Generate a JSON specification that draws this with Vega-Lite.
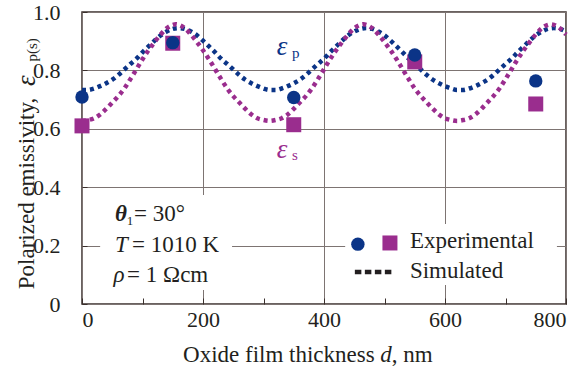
{
  "$schema": "https://vega.github.io/schema/vega-lite/v6.json",
  "width": 484,
  "height": 292,
  "autosize": {"type": "none"},
  "padding": {"left": 82, "top": 12, "right": 10, "bottom": 68},
  "background": "white",
  "config": {
    "view": {"stroke": "#3a2f2c", "strokeWidth": 1.5},
    "font": "'Liberation Serif', 'Times New Roman', serif",
    "text": {"font": "'Liberation Serif', 'Times New Roman', serif", "color": "#231f20"}
  },
  "datasets": {
    "one": [{}],
    "sim": [
      {"d":0,"v":0.733,"pol":"p"},{"d":10,"v":0.733,"pol":"p"},{"d":20,"v":0.738,"pol":"p"},{"d":30,"v":0.746,"pol":"p"},{"d":40,"v":0.756,"pol":"p"},{"d":50,"v":0.768,"pol":"p"},{"d":60,"v":0.784,"pol":"p"},{"d":70,"v":0.803,"pol":"p"},{"d":80,"v":0.822,"pol":"p"},{"d":90,"v":0.840,"pol":"p"},{"d":100,"v":0.862,"pol":"p"},{"d":110,"v":0.882,"pol":"p"},{"d":120,"v":0.902,"pol":"p"},{"d":130,"v":0.920,"pol":"p"},{"d":140,"v":0.933,"pol":"p"},{"d":150,"v":0.942,"pol":"p"},{"d":160,"v":0.945,"pol":"p"},{"d":170,"v":0.942,"pol":"p"},{"d":180,"v":0.933,"pol":"p"},{"d":190,"v":0.920,"pol":"p"},{"d":200,"v":0.902,"pol":"p"},{"d":210,"v":0.882,"pol":"p"},{"d":220,"v":0.862,"pol":"p"},{"d":230,"v":0.840,"pol":"p"},{"d":240,"v":0.822,"pol":"p"},{"d":250,"v":0.803,"pol":"p"},{"d":260,"v":0.784,"pol":"p"},{"d":270,"v":0.768,"pol":"p"},{"d":280,"v":0.756,"pol":"p"},{"d":290,"v":0.746,"pol":"p"},{"d":300,"v":0.738,"pol":"p"},{"d":310,"v":0.733,"pol":"p"},{"d":320,"v":0.733,"pol":"p"},{"d":330,"v":0.738,"pol":"p"},{"d":340,"v":0.746,"pol":"p"},{"d":350,"v":0.756,"pol":"p"},{"d":360,"v":0.768,"pol":"p"},{"d":370,"v":0.784,"pol":"p"},{"d":380,"v":0.803,"pol":"p"},{"d":390,"v":0.822,"pol":"p"},{"d":400,"v":0.840,"pol":"p"},{"d":410,"v":0.862,"pol":"p"},{"d":420,"v":0.882,"pol":"p"},{"d":430,"v":0.902,"pol":"p"},{"d":440,"v":0.920,"pol":"p"},{"d":450,"v":0.933,"pol":"p"},{"d":460,"v":0.942,"pol":"p"},{"d":470,"v":0.945,"pol":"p"},{"d":480,"v":0.942,"pol":"p"},{"d":490,"v":0.933,"pol":"p"},{"d":500,"v":0.920,"pol":"p"},{"d":510,"v":0.902,"pol":"p"},{"d":520,"v":0.882,"pol":"p"},{"d":530,"v":0.862,"pol":"p"},{"d":540,"v":0.840,"pol":"p"},{"d":550,"v":0.822,"pol":"p"},{"d":560,"v":0.803,"pol":"p"},{"d":570,"v":0.784,"pol":"p"},{"d":580,"v":0.768,"pol":"p"},{"d":590,"v":0.756,"pol":"p"},{"d":600,"v":0.746,"pol":"p"},{"d":610,"v":0.738,"pol":"p"},{"d":620,"v":0.733,"pol":"p"},{"d":630,"v":0.733,"pol":"p"},{"d":640,"v":0.738,"pol":"p"},{"d":650,"v":0.746,"pol":"p"},{"d":660,"v":0.756,"pol":"p"},{"d":670,"v":0.768,"pol":"p"},{"d":680,"v":0.784,"pol":"p"},{"d":690,"v":0.803,"pol":"p"},{"d":700,"v":0.822,"pol":"p"},{"d":710,"v":0.840,"pol":"p"},{"d":720,"v":0.862,"pol":"p"},{"d":730,"v":0.882,"pol":"p"},{"d":740,"v":0.902,"pol":"p"},{"d":750,"v":0.920,"pol":"p"},{"d":760,"v":0.933,"pol":"p"},{"d":770,"v":0.942,"pol":"p"},{"d":780,"v":0.945,"pol":"p"},{"d":790,"v":0.942,"pol":"p"},{"d":800,"v":0.933,"pol":"p"},
      {"d":0,"v":0.627,"pol":"s"},{"d":10,"v":0.630,"pol":"s"},{"d":20,"v":0.636,"pol":"s"},{"d":30,"v":0.649,"pol":"s"},{"d":40,"v":0.668,"pol":"s"},{"d":50,"v":0.690,"pol":"s"},{"d":60,"v":0.712,"pol":"s"},{"d":70,"v":0.738,"pol":"s"},{"d":80,"v":0.770,"pol":"s"},{"d":90,"v":0.804,"pol":"s"},{"d":100,"v":0.838,"pol":"s"},{"d":110,"v":0.869,"pol":"s"},{"d":120,"v":0.897,"pol":"s"},{"d":130,"v":0.923,"pol":"s"},{"d":140,"v":0.944,"pol":"s"},{"d":150,"v":0.956,"pol":"s"},{"d":155,"v":0.958,"pol":"s"},{"d":160,"v":0.956,"pol":"s"},{"d":170,"v":0.944,"pol":"s"},{"d":180,"v":0.923,"pol":"s"},{"d":190,"v":0.897,"pol":"s"},{"d":200,"v":0.869,"pol":"s"},{"d":210,"v":0.838,"pol":"s"},{"d":220,"v":0.804,"pol":"s"},{"d":230,"v":0.770,"pol":"s"},{"d":240,"v":0.738,"pol":"s"},{"d":250,"v":0.712,"pol":"s"},{"d":260,"v":0.690,"pol":"s"},{"d":270,"v":0.668,"pol":"s"},{"d":280,"v":0.649,"pol":"s"},{"d":290,"v":0.636,"pol":"s"},{"d":300,"v":0.630,"pol":"s"},{"d":310,"v":0.627,"pol":"s"},{"d":320,"v":0.630,"pol":"s"},{"d":330,"v":0.636,"pol":"s"},{"d":340,"v":0.649,"pol":"s"},{"d":350,"v":0.668,"pol":"s"},{"d":360,"v":0.690,"pol":"s"},{"d":370,"v":0.712,"pol":"s"},{"d":380,"v":0.738,"pol":"s"},{"d":390,"v":0.770,"pol":"s"},{"d":400,"v":0.804,"pol":"s"},{"d":410,"v":0.838,"pol":"s"},{"d":420,"v":0.869,"pol":"s"},{"d":430,"v":0.897,"pol":"s"},{"d":440,"v":0.923,"pol":"s"},{"d":450,"v":0.944,"pol":"s"},{"d":460,"v":0.956,"pol":"s"},{"d":465,"v":0.958,"pol":"s"},{"d":470,"v":0.956,"pol":"s"},{"d":480,"v":0.944,"pol":"s"},{"d":490,"v":0.923,"pol":"s"},{"d":500,"v":0.897,"pol":"s"},{"d":510,"v":0.869,"pol":"s"},{"d":520,"v":0.838,"pol":"s"},{"d":530,"v":0.804,"pol":"s"},{"d":540,"v":0.770,"pol":"s"},{"d":550,"v":0.738,"pol":"s"},{"d":560,"v":0.712,"pol":"s"},{"d":570,"v":0.690,"pol":"s"},{"d":580,"v":0.668,"pol":"s"},{"d":590,"v":0.649,"pol":"s"},{"d":600,"v":0.636,"pol":"s"},{"d":610,"v":0.630,"pol":"s"},{"d":620,"v":0.627,"pol":"s"},{"d":630,"v":0.630,"pol":"s"},{"d":640,"v":0.636,"pol":"s"},{"d":650,"v":0.649,"pol":"s"},{"d":660,"v":0.668,"pol":"s"},{"d":670,"v":0.690,"pol":"s"},{"d":680,"v":0.712,"pol":"s"},{"d":690,"v":0.738,"pol":"s"},{"d":700,"v":0.770,"pol":"s"},{"d":710,"v":0.804,"pol":"s"},{"d":720,"v":0.838,"pol":"s"},{"d":730,"v":0.869,"pol":"s"},{"d":740,"v":0.897,"pol":"s"},{"d":750,"v":0.923,"pol":"s"},{"d":760,"v":0.944,"pol":"s"},{"d":770,"v":0.956,"pol":"s"},{"d":775,"v":0.958,"pol":"s"},{"d":780,"v":0.956,"pol":"s"},{"d":790,"v":0.944,"pol":"s"},{"d":800,"v":0.923,"pol":"s"}
    ],
    "exp": [
      {"d":0,"v":0.61,"pol":"s"},{"d":150,"v":0.893,"pol":"s"},{"d":350,"v":0.614,"pol":"s"},{"d":550,"v":0.829,"pol":"s"},{"d":750,"v":0.685,"pol":"s"},
      {"d":0,"v":0.709,"pol":"p"},{"d":150,"v":0.895,"pol":"p"},{"d":350,"v":0.707,"pol":"p"},{"d":550,"v":0.853,"pol":"p"},{"d":750,"v":0.764,"pol":"p"}
    ]
  },
  "layer": [
    {
      "data": {"name": "sim"},
      "mark": {"type": "line", "strokeWidth": 4.5, "strokeDash": [4, 4], "strokeCap": "butt", "interpolate": "monotone"},
      "encoding": {
        "x": {
          "field": "d", "type": "quantitative",
          "scale": {"domain": [0, 800], "nice": false, "zero": false},
          "axis": {
            "values": [0, 100, 200, 300, 400, 500, 600, 700, 800],
            "labelExpr": "datum.value % 200 == 0 ? datum.label : ''",
            "labelFont": "'Liberation Serif', 'Times New Roman', serif", "labelFontSize": 22, "labelColor": "#231f20",
            "labelFlush": true, "labelOverlap": false, "labelPadding": 11,
            "domain": false,
            "ticks": true, "tickSize": -6, "tickColor": "#3a2f2c", "tickWidth": 1,
            "grid": true, "gridColor": "#7d7472", "gridWidth": 1,
            "gridOpacity": {"condition": {"test": "datum.value % 200 != 0", "value": 0}, "value": 1},
            "title": null
          }
        },
        "y": {
          "field": "v", "type": "quantitative",
          "scale": {"domain": [0, 1], "nice": false},
          "axis": {
            "values": [0, 0.1, 0.2, 0.3, 0.4, 0.5, 0.6, 0.7, 0.8, 0.9, 1.0],
            "labelExpr": "datum.value == 0 ? '0' : (round(datum.value * 10) % 2 == 0 ? format(datum.value, '.1f') : '')",
            "labelFont": "'Liberation Serif', 'Times New Roman', serif", "labelFontSize": 22, "labelColor": "#231f20",
            "labelOverlap": false, "labelPadding": 27,
            "domain": false,
            "ticks": true, "tickSize": -5, "tickColor": "#3a2f2c", "tickWidth": 1,
            "grid": true, "gridColor": "#7d7472", "gridWidth": 1,
            "gridOpacity": {"condition": {"test": "round(datum.value * 10) % 2 == 1", "value": 0}, "value": 1},
            "title": "Polarized emissivity,",
            "titleFont": "'Liberation Serif', 'Times New Roman', serif", "titleFontSize": 23, "titleFontWeight": "normal", "titleColor": "#231f20",
            "titleAngle": 270, "titleBaseline": "alphabetic", "titleAlign": "center", "titleX": -49, "titleY": 181
          }
        },
        "color": {"field": "pol", "type": "nominal", "scale": {"domain": ["p", "s"], "range": ["#0b3487", "#9a2d8e"]}, "legend": null},
        "detail": {"field": "pol"}
      }
    },
    {
      "data": {"name": "exp"},
      "mark": {"type": "point", "filled": true, "opacity": 1, "strokeWidth": 0},
      "encoding": {
        "x": {"field": "d", "type": "quantitative"},
        "y": {"field": "v", "type": "quantitative"},
        "color": {"field": "pol", "type": "nominal", "legend": null},
        "shape": {"field": "pol", "type": "nominal", "scale": {"domain": ["p", "s"], "range": ["circle", "square"]}, "legend": null},
        "size": {"field": "pol", "type": "nominal", "scale": {"domain": ["p", "s"], "range": [180, 225]}, "legend": null}
      }
    },
    {
      "data": {"name": "one"},
      "mark": {"type": "rect", "color": "white"},
      "encoding": {"x": {"datum": 30}, "x2": {"datum": 248}, "y": {"datum": 0.048}, "y2": {"datum": 0.373}}
    },
    {
      "data": {"name": "one"},
      "mark": {"type": "rect", "color": "white"},
      "encoding": {"x": {"datum": 435}, "x2": {"datum": 785}, "y": {"datum": 0.065}, "y2": {"datum": 0.274}}
    },
    {
      "data": {"name": "one"},
      "mark": {"type": "text", "text": "Oxide film thickness", "fontSize": 23, "align": "left", "baseline": "alphabetic"},
      "encoding": {"x": {"datum": 167}, "y": {"datum": -0.199}}
    },
    {
      "data": {"name": "one"},
      "mark": {"type": "text", "text": "d", "fontSize": 23, "fontStyle": "italic", "align": "left", "baseline": "alphabetic"},
      "encoding": {"x": {"datum": 493}, "y": {"datum": -0.199}}
    },
    {
      "data": {"name": "one"},
      "mark": {"type": "text", "text": ", nm", "fontSize": 23, "align": "left", "baseline": "alphabetic"},
      "encoding": {"x": {"datum": 512}, "y": {"datum": -0.199}}
    },
    {
      "data": {"name": "one"},
      "mark": {"type": "text", "text": "θ", "fontSize": 23, "fontStyle": "italic", "fontWeight": "bold", "align": "left", "baseline": "alphabetic"},
      "encoding": {"x": {"datum": 54.5}, "y": {"datum": 0.284}}
    },
    {
      "data": {"name": "one"},
      "mark": {"type": "text", "text": "1", "fontSize": 13, "align": "left", "baseline": "alphabetic"},
      "encoding": {"x": {"datum": 74}, "y": {"datum": 0.272}}
    },
    {
      "data": {"name": "one"},
      "mark": {"type": "text", "text": "= 30°", "fontSize": 23, "align": "left", "baseline": "alphabetic"},
      "encoding": {"x": {"datum": 86}, "y": {"datum": 0.284}}
    },
    {
      "data": {"name": "one"},
      "mark": {"type": "text", "text": "T", "fontSize": 23, "fontStyle": "italic", "align": "left", "baseline": "alphabetic"},
      "encoding": {"x": {"datum": 54.5}, "y": {"datum": 0.178}}
    },
    {
      "data": {"name": "one"},
      "mark": {"type": "text", "text": "= 1010 K", "fontSize": 23, "align": "left", "baseline": "alphabetic"},
      "encoding": {"x": {"datum": 82.5}, "y": {"datum": 0.178}}
    },
    {
      "data": {"name": "one"},
      "mark": {"type": "text", "text": "ρ", "fontSize": 23, "fontStyle": "italic", "align": "left", "baseline": "alphabetic"},
      "encoding": {"x": {"datum": 52}, "y": {"datum": 0.075}}
    },
    {
      "data": {"name": "one"},
      "mark": {"type": "text", "text": "= 1 Ωcm", "fontSize": 23, "align": "left", "baseline": "alphabetic"},
      "encoding": {"x": {"datum": 74.5}, "y": {"datum": 0.075}}
    },
    {
      "data": {"name": "one"},
      "mark": {"type": "text", "text": "ε", "fontSize": 27, "fontStyle": "italic", "color": "#0b3487", "align": "left", "baseline": "alphabetic"},
      "encoding": {"x": {"datum": 322}, "y": {"datum": 0.853}}
    },
    {
      "data": {"name": "one"},
      "mark": {"type": "text", "text": "p", "fontSize": 15, "color": "#0b3487", "align": "left", "baseline": "alphabetic"},
      "encoding": {"x": {"datum": 347}, "y": {"datum": 0.842}}
    },
    {
      "data": {"name": "one"},
      "mark": {"type": "text", "text": "ε", "fontSize": 27, "fontStyle": "italic", "color": "#9a2d8e", "align": "left", "baseline": "alphabetic"},
      "encoding": {"x": {"datum": 322}, "y": {"datum": 0.5}}
    },
    {
      "data": {"name": "one"},
      "mark": {"type": "text", "text": "s", "fontSize": 15, "color": "#9a2d8e", "align": "left", "baseline": "alphabetic"},
      "encoding": {"x": {"datum": 347}, "y": {"datum": 0.493}}
    },
    {
      "data": {"name": "one"},
      "mark": {"type": "text", "text": "ε", "fontSize": 27, "fontStyle": "italic", "angle": 270, "align": "center", "baseline": "alphabetic"},
      "encoding": {"x": {"datum": -78}, "y": {"datum": 0.765}}
    },
    {
      "data": {"name": "one"},
      "mark": {"type": "text", "text": "p(s)", "fontSize": 15, "angle": 270, "align": "center", "baseline": "alphabetic"},
      "encoding": {"x": {"datum": -74}, "y": {"datum": 0.87}}
    },
    {
      "data": {"name": "one"},
      "mark": {"type": "point", "shape": "circle", "filled": true, "opacity": 1, "size": 180, "color": "#0b3487", "strokeWidth": 0},
      "encoding": {"x": {"datum": 456}, "y": {"datum": 0.205}}
    },
    {
      "data": {"name": "one"},
      "mark": {"type": "point", "shape": "square", "filled": true, "opacity": 1, "size": 225, "color": "#9a2d8e", "strokeWidth": 0},
      "encoding": {"x": {"datum": 509}, "y": {"datum": 0.209}}
    },
    {
      "data": {"name": "one"},
      "mark": {"type": "rule", "color": "#231f20", "strokeWidth": 4.5, "strokeDash": [6.5, 3.5], "strokeCap": "butt"},
      "encoding": {"x": {"datum": 451}, "x2": {"datum": 512}, "y": {"datum": 0.11}}
    },
    {
      "data": {"name": "one"},
      "mark": {"type": "text", "text": "Experimental", "fontSize": 23, "align": "left", "baseline": "alphabetic"},
      "encoding": {"x": {"datum": 542}, "y": {"datum": 0.192}}
    },
    {
      "data": {"name": "one"},
      "mark": {"type": "text", "text": "Simulated", "fontSize": 23, "align": "left", "baseline": "alphabetic"},
      "encoding": {"x": {"datum": 542}, "y": {"datum": 0.089}}
    }
  ]
}
